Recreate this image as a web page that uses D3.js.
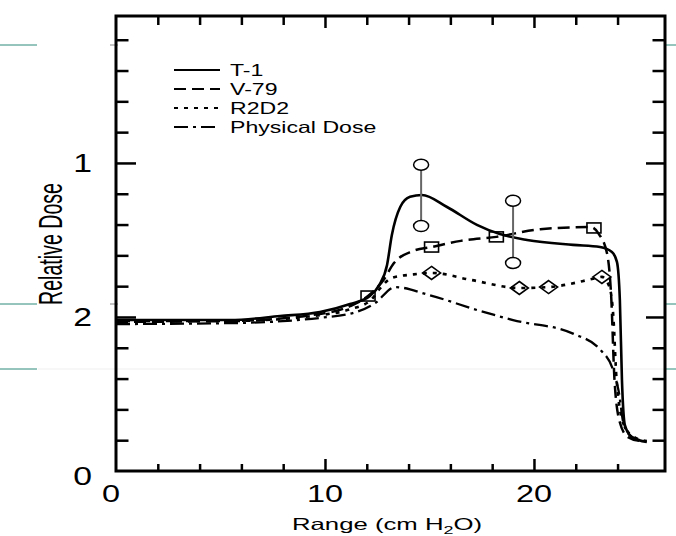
<!doctype html>

<meta charset="utf-8">
<title>Relative Dose vs Range</title>

<script src="https://cdn.jsdelivr.net/npm/d3@7"></script>

<style>
body {
  margin: 0;
  background: #fff;
}

svg {
  display: block;
}

text {
  font-family: "Liberation Sans", Arial, sans-serif;
  fill: #000;
}
</style>

<svg id="chart" width="676" height="536"></svg>

<script>
// curves: [range (cm H2O), relative dose]
var t1 = [
  [0, 0.490], [5.45, 0.490], [7.85, 0.503], [9.76, 0.516], [11.2, 0.542],
  [12.15, 0.568], [12.6, 0.604], [12.97, 0.669], [13.2, 0.766], [13.6, 0.857],
  [14.07, 0.890], [14.64, 0.896], [15.84, 0.857], [17.27, 0.799], [18.37, 0.769],
  [19.67, 0.750], [21.87, 0.734], [23.16, 0.727], [23.73, 0.711], [23.97, 0.679],
  [24.11, 0.555], [24.21, 0.295], [24.35, 0.149], [24.69, 0.110], [25.4, 0.094]
];
var v79 = [
  [0, 0.484], [5.45, 0.487], [9.76, 0.510], [11.2, 0.535], [12.06, 0.568],
  [12.8, 0.620], [13.3, 0.675], [14.2, 0.714], [15.1, 0.727], [16.5, 0.747],
  [18.2, 0.760], [20.3, 0.785], [22.7, 0.792], [23.1, 0.770], [23.5, 0.705],
  [23.7, 0.560], [23.85, 0.300], [24.1, 0.160], [24.5, 0.110], [25.1, 0.097]
];
var r2d2 = [
  [0, 0.487], [5.45, 0.487], [9.76, 0.506], [11.2, 0.525], [12.2, 0.555],
  [12.6, 0.590], [13.2, 0.627], [14.2, 0.638], [15.1, 0.643], [17.0, 0.620],
  [19.3, 0.594], [20.7, 0.597], [22.9, 0.625], [23.25, 0.630], [23.6, 0.600],
  [23.8, 0.500], [23.95, 0.300], [24.3, 0.150], [24.8, 0.110], [25.4, 0.097]
];
var physical = [
  [0, 0.477], [5.45, 0.480], [9.76, 0.497], [11.5, 0.516], [12.4, 0.545],
  [13.35, 0.597], [15.0, 0.571], [17.3, 0.522], [19.0, 0.490], [21.9, 0.445],
  [23.2, 0.392], [23.8, 0.325], [24.05, 0.260], [24.3, 0.150], [24.7, 0.110],
  [25.3, 0.097]
];

var squares = [[12.06, 0.568], [15.1, 0.727], [18.2, 0.760], [22.87, 0.789]];
var diamonds = [[15.1, 0.643], [19.3, 0.594], [20.7, 0.597], [23.25, 0.630]];
// error bars: [range, low, high]
var errorBars = [[14.6, 0.795, 0.994], [19.0, 0.675, 0.877]];

var xMajor = [0, 10, 20];
var xMinor = [2, 4, 6, 8, 12, 14, 16, 18, 22, 24];
var yMajor = [0, 0.5, 1.0];
var yMinor = [0.1, 0.2, 0.3, 0.4, 0.6, 0.7, 0.8, 0.9, 1.1, 1.2, 1.3, 1.4];
var yTickLabels = ["0", "2", "1"];

var legendLabels = ["T-1", "V-79", "R2D2", "Physical Dose"];
var legendDash = ["none", "12,6", "4,6", "14,5,3,5"];

var svg = d3.select("#chart");

var x = d3.scaleLinear().domain([0, 26.27]).range([116, 665]);
var y = d3.scaleLinear().domain([0, 1.477]).range([471, 16]);

// stray slide rules outside the plot
var teal = "#2a8a78";
[45, 304, 369].forEach(function(yy) {
  svg.append("line").attr("x1", 0).attr("x2", 37).attr("y1", yy).attr("y2", yy)
    .attr("stroke", teal).attr("stroke-width", 1);
  svg.append("line").attr("x1", 665).attr("x2", 676).attr("y1", yy).attr("y2", yy)
    .attr("stroke", teal).attr("stroke-width", 1);
});
svg.append("line").attr("x1", 38).attr("x2", 665).attr("y1", 369).attr("y2", 369)
  .attr("stroke", "#efefef").attr("stroke-width", 1);
[45, 304].forEach(function(yy) {
  svg.append("line").attr("x1", 110).attr("x2", 118).attr("y1", yy).attr("y2", yy)
    .attr("stroke", "#888").attr("stroke-width", 1);
});

// axes (inward ticks)
function ticks(g) {
  g.select(".domain").remove();
  g.selectAll(".tick line").attr("stroke", "#000").attr("stroke-width", 2.5);
}
svg.append("g").attr("transform", "translate(0,471)")
  .call(d3.axisBottom(x).tickValues(xMinor).tickSize(-7).tickFormat("")).call(ticks);
svg.append("g").attr("transform", "translate(0,471)")
  .call(d3.axisBottom(x).tickValues([10, 20]).tickSize(-12).tickFormat("")).call(ticks);
svg.append("g").attr("transform", "translate(0,16)")
  .call(d3.axisTop(x).tickValues(xMinor).tickSize(-9).tickFormat("")).call(ticks);
svg.append("g").attr("transform", "translate(0,16)")
  .call(d3.axisTop(x).tickValues([10, 20]).tickSize(-12).tickFormat("")).call(ticks);
svg.append("g").attr("transform", "translate(116,0)")
  .call(d3.axisLeft(y).tickValues(yMinor).tickSize(-12.5).tickFormat("")).call(ticks);
svg.append("g").attr("transform", "translate(116,0)")
  .call(d3.axisLeft(y).tickValues([0.5, 1.0]).tickSize(-20).tickFormat("")).call(ticks);
svg.append("g").attr("transform", "translate(665,0)")
  .call(d3.axisRight(y).tickValues(yMinor).tickSize(-12.5).tickFormat("")).call(ticks);
svg.append("g").attr("transform", "translate(665,0)")
  .call(d3.axisRight(y).tickValues([0.5, 1.0]).tickSize(-19).tickFormat("")).call(ticks);

svg.append("rect")
  .attr("x", x(0)).attr("y", y(1.477))
  .attr("width", x(26.27) - x(0)).attr("height", y(0) - y(1.477))
  .attr("fill", "none").attr("stroke", "#000").attr("stroke-width", 3);

// tick labels
yMajor.forEach(function(v, i) {
  svg.append("text")
    .attr("transform", "translate(92," + (y(v) + (v === 0 ? 14 : 9)) + ") scale(1.35,1)")
    .attr("text-anchor", "end").attr("font-size", 25)
    .text(yTickLabels[i]);
});
xMajor.forEach(function(v) {
  svg.append("text")
    .attr("transform", "translate(" + (x(v) - (v === 0 ? 5 : 0)) + ",502) scale(1.35,1)")
    .attr("text-anchor", "middle").attr("font-size", 24)
    .text(v);
});

// axis titles
var xt = svg.append("text")
  .attr("transform", "translate(387,530) scale(1.56,1)")
  .attr("text-anchor", "middle").attr("font-size", 16.5);
xt.append("tspan").text("Range (cm H");
xt.append("tspan").attr("font-size", 11.5).attr("dy", 4).text("2");
xt.append("tspan").attr("dy", -4).text("O)");

svg.append("text")
  .attr("transform", "translate(62,244) rotate(-90)")
  .attr("text-anchor", "middle").attr("font-size", 33)
  .attr("textLength", 122).attr("lengthAdjust", "spacingAndGlyphs")
  .text("Relative Dose");

// curves
var line = d3.line()
  .x(function(d) { return x(d[0]); })
  .y(function(d) { return y(d[1]); })
  .curve(d3.curveMonotoneX);

var series = [t1, v79, r2d2, physical];
var widths = [2.6, 2.5, 2.6, 2.3];
series.forEach(function(s, i) {
  svg.append("path")
    .attr("d", line(s))
    .attr("fill", "none").attr("stroke", "#000")
    .attr("stroke-width", widths[i])
    .attr("stroke-dasharray", legendDash[i]);
});

// error bars with circles
errorBars.forEach(function(b) {
  svg.append("line")
    .attr("x1", x(b[0])).attr("x2", x(b[0]))
    .attr("y1", y(b[2]) + 5.5).attr("y2", y(b[1]) - 5.5)
    .attr("stroke", "#666").attr("stroke-width", 2);
  [b[1], b[2]].forEach(function(v) {
    svg.append("ellipse")
      .attr("cx", x(b[0])).attr("cy", y(v)).attr("rx", 7.5).attr("ry", 5.5)
      .attr("fill", "#fff").attr("stroke", "#000").attr("stroke-width", 1.5);
  });
});

svg.selectAll(".sq").data(squares).enter().append("rect")
  .attr("x", function(d) { return x(d[0]) - 7; })
  .attr("y", function(d) { return y(d[1]) - 5; })
  .attr("width", 14).attr("height", 10)
  .attr("fill", "none").attr("stroke", "#000").attr("stroke-width", 1.6);

svg.selectAll(".dm").data(diamonds).enter().append("path")
  .attr("transform", function(d) { return "translate(" + x(d[0]) + "," + y(d[1]) + ")"; })
  .attr("d", "M0,-6.5L9,0L0,6.5L-9,0Z")
  .attr("fill", "none").attr("stroke", "#000").attr("stroke-width", 1.6);

// legend
legendLabels.forEach(function(lab, i) {
  var yy = 70 + i * 19;
  svg.append("line")
    .attr("x1", 174).attr("x2", 220).attr("y1", yy).attr("y2", yy)
    .attr("stroke", "#000").attr("stroke-width", 2)
    .attr("stroke-dasharray", legendDash[i]);
  svg.append("text")
    .attr("transform", "translate(230," + (yy + 6) + ") scale(1.4,1)")
    .attr("font-size", 16.5)
    .text(lab);
});
</script>
